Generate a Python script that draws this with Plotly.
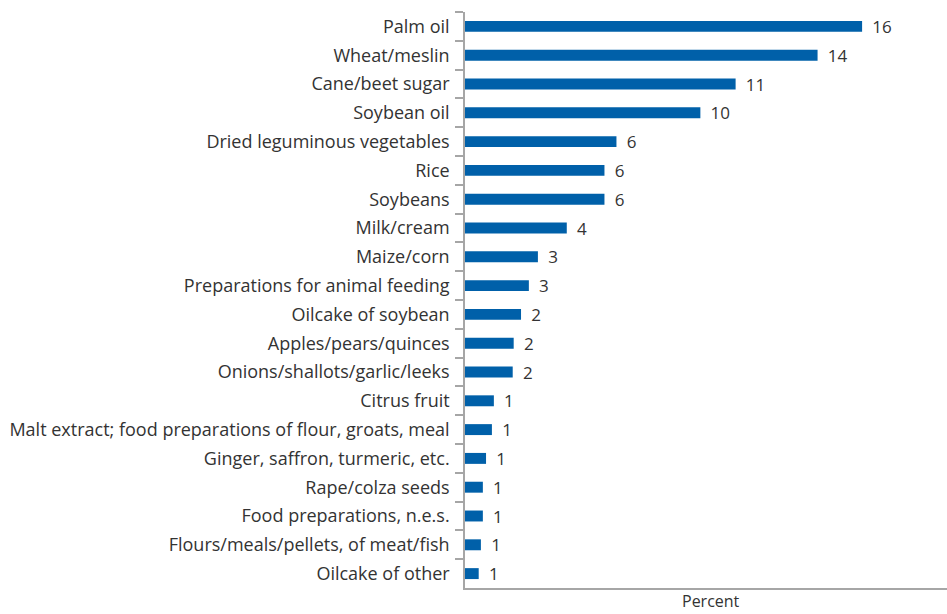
import plotly.graph_objects as go

products = [
    'Palm oil', 'Wheat/meslin', 'Cane/beet sugar', 'Soybean oil',
    'Dried leguminous vegetables', 'Rice', 'Soybeans', 'Milk/cream',
    'Maize/corn', 'Preparations for animal feeding', 'Oilcake of soybean',
    'Apples/pears/quinces', 'Onions/shallots/garlic/leeks', 'Citrus fruit',
    'Malt extract; food preparations of flour, groats, meal',
    'Ginger, saffron, turmeric, etc.', 'Rape/colza seeds',
    'Food preparations, n.e.s.', 'Flours/meals/pellets, of meat/fish',
    'Oilcake of other',
]
share = [16.23, 14.41, 11.06, 9.62, 6.19, 5.70, 5.70, 4.16, 2.98, 2.61,
         2.29, 1.99, 1.95, 1.18, 1.10, 0.86, 0.73, 0.73, 0.65, 0.56]
labels = ['16', '14', '11', '10', '6', '6', '6', '4', '3', '3',
          '2', '2', '2', '1', '1', '1', '1', '1', '1', '1']

font = 'Open Sans, sans-serif'
axis_grey = '#a6a6a6'
text_col = '#333333'

fig = go.Figure()
fig.add_trace(go.Bar(
    x=share,
    y=products,
    orientation='h',
    marker=dict(color='#0060a9', line=dict(width=0)),
    width=0.38,
    text=['\u00a0\u2009' + t for t in labels],
    textposition='outside',
    constraintext='none',
    cliponaxis=False,
    textfont=dict(family=font, size=17, color=text_col),
    hoverinfo='x+y',
))

fig.update_layout(
    width=947,
    height=614,
    margin=dict(l=465, r=0, t=12, b=26, autoexpand=False),
    plot_bgcolor='white',
    paper_bgcolor='white',
    showlegend=False,
    font=dict(family=font, size=17, color=text_col),
    xaxis=dict(
        range=[0, 19.7],
        showticklabels=False,
        showgrid=False,
        zeroline=False,
        showline=True,
        linecolor=axis_grey,
        linewidth=1.5,
        ticks='',
        automargin=False,
    ),
    yaxis=dict(
        categoryorder='array',
        categoryarray=products,
        autorange='reversed',
        showgrid=False,
        showline=True,
        linecolor=axis_grey,
        linewidth=1.5,
        ticks='outside',
        tickson='boundaries',
        ticklen=8,
        tickcolor=axis_grey,
        tickwidth=1.5,
        ticklabelstandoff=10,
        automargin=False,
        tickfont=dict(family=font, size=18, color=text_col),
    ),
)

fig.add_annotation(
    text='Percent', x=0.51, y=0, xref='paper', yref='paper',
    xanchor='center', yanchor='top', yshift=-1, showarrow=False,
    borderpad=0,
    font=dict(family=font, size=16, color=text_col),
)

# page body has a default 8px margin; drop it so the chart fills the window
fig.write_html("out.html", config={'displayModeBar': False},
               post_script="document.body.style.margin='0';")
